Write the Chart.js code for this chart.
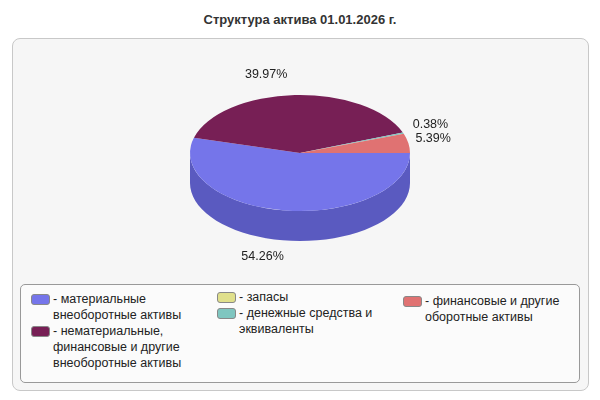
<!DOCTYPE html>
<html><head><meta charset="utf-8">
<script src="https://cdn.jsdelivr.net/npm/chart.js@4"></script>
<style>
body{margin:0;width:600px;height:400px;background:#fff;font-family:Arial,"Liberation Sans",sans-serif;position:relative;overflow:hidden}
#title{position:absolute;top:12px;left:0;width:600px;text-align:center;font-weight:bold;font-size:13px;color:#333}
#panel{position:absolute;left:12px;top:38px;width:575px;height:351px;border:1px solid #c8c8c8;border-radius:8px;background:#f6f6f6}
#cv{position:absolute;left:0;top:0}
#legend{position:absolute;left:20px;top:284px;width:558px;height:97px;border:1px solid #999;border-radius:5px;background:#fbfbfb;font-size:12.5px;color:#222}
.it{position:absolute;line-height:16px}
.sw{position:absolute;left:-22px;top:3px;width:17px;height:9px;border:1px solid #888;border-radius:3px}
</style></head><body>
<div id="title">Структура актива 01.01.2026 г.</div>
<div id="panel"></div>
<canvas id="cv" width="600" height="400"></canvas>
<div id="legend"></div>
<script>
const labels = ['материальные внеоборотные активы', 'нематериальные, финансовые и другие внеоборотные активы', 'запасы', 'денежные средства и эквиваленты', 'финансовые и другие оборотные активы'];
const legendText = ['- материальные<br>внеоборотные активы', '- нематериальные,<br>финансовые и другие<br>внеоборотные активы', '- запасы', '- денежные средства и<br>эквиваленты', '- финансовые и другие<br>оборотные активы'];
const values = [54.26, 39.97, 0, 0.38, 5.39];
const colors = ['#7575ea', '#771f55', '#e0e08c', '#7fc6c0', '#e07272'];
const sideColors = ['#5a5ac0', '#5a1540', '#b8b870', '#5fa39d', '#b85656'];

// legend
const pos = [[32, 6], [32, 38], [218, 4], [218, 20], [404, 8]];
const lg = document.getElementById('legend');
legendText.forEach((t, i) => {
  const d = document.createElement('div');
  d.className = 'it';
  d.style.left = pos[i][0] + 'px'; d.style.top = pos[i][1] + 'px';
  d.innerHTML = '<span class="sw" style="background:' + colors[i] + '"></span>' + t;
  lg.appendChild(d);
});

const SY = 58 / 110, DEPTH = 30;
const pie3d = {
  id: 'pie3d',
  beforeDatasetsDraw(chart) {
    const ctx = chart.ctx;
    const arcs = chart.getDatasetMeta(0).data;
    const cx = arcs[0].x, cy = arcs[0].y, r = arcs[0].outerRadius;
    ctx.save();
    // side walls
    arcs.forEach((a, i) => {
      let s = Math.max(a.startAngle, 0), e = Math.min(a.endAngle, Math.PI);
      const s2 = Math.max(a.startAngle, 2 * Math.PI), e2 = Math.min(a.endAngle, 3 * Math.PI);
      [[s, e], [s2, e2]].forEach(([p, q]) => {
        if (q <= p) return;
        ctx.beginPath();
        for (let k = 0; k <= 40; k++) {
          const t = p + (q - p) * k / 40;
          ctx.lineTo(cx + r * Math.cos(t), cy + r * SY * Math.sin(t));
        }
        for (let k = 40; k >= 0; k--) {
          const t = p + (q - p) * k / 40;
          ctx.lineTo(cx + r * Math.cos(t), cy + r * SY * Math.sin(t) + DEPTH);
        }
        ctx.closePath();
        ctx.fillStyle = sideColors[i];
        ctx.fill();
      });
    });
    ctx.translate(cx, cy); ctx.scale(1, SY); ctx.translate(-cx, -cy);
  },
  afterDatasetsDraw(chart) {
    const ctx = chart.ctx;
    ctx.restore();
    const arcs = chart.getDatasetMeta(0).data;
    ctx.save();
    ctx.font = '12.5px Arial, "Liberation Sans", sans-serif';
    ctx.fillStyle = '#222';
    ctx.textBaseline = 'middle';
    const nudge = [[-21, 9], [-28, -14], [0, 0], [-3, -6], [-6, -4]];
    arcs.forEach((a, i) => {
      if (!values[i]) return;
      const m = (a.startAngle + a.endAngle) / 2, r = a.outerRadius * 1.12;
      let x = a.x + r * Math.cos(m), y = a.y + r * SY * Math.sin(m);
      if (Math.sin(m) > 0) y += DEPTH;
      ctx.textAlign = Math.abs(Math.cos(m)) < 0.5 ? 'center' : (Math.cos(m) > 0 ? 'left' : 'right');
      ctx.fillText(values[i].toFixed(2) + '%', x + nudge[i][0], y + nudge[i][1]);
    });
    ctx.restore();
  }
};

new Chart(document.getElementById('cv'), {
  type: 'pie',
  data: { labels: labels, datasets: [{ data: values, backgroundColor: colors, borderWidth: 0 }] },
  options: {
    responsive: false, animation: false, rotation: 90,
    layout: { padding: { left: 190, right: 190, top: 43, bottom: 137 } },
    plugins: { legend: { display: false }, tooltip: { enabled: false } }
  },
  plugins: [pie3d]
});
</script>
</body></html>
